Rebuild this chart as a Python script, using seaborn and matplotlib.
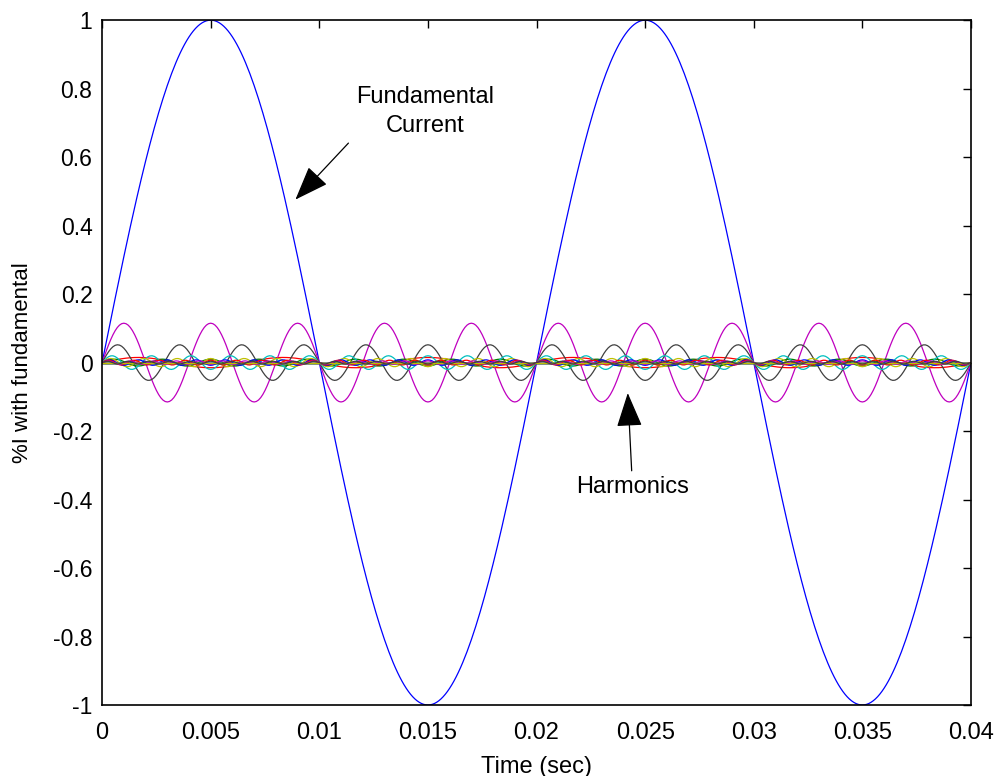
import numpy as np
import pandas as pd
import seaborn as sns
import matplotlib.pyplot as plt

# Harmonic content (orders 1..21, peak value in per unit)
orders = list(range(1, 22))
amplitudes = [1.0, 0.0, 0.015, 0.0, 0.115, 0.0, 0.052, 0.0, 0.010, 0.0,
              0.020, 0.0, 0.012, 0.0, 0.008, 0.0, 0.007, 0.0, 0.005, 0.0, 0.004]
f0 = 50.0
t_end = 0.04
dt = 1e-4

# MATLAB default colour order, cycled over the columns
matlab_colors = ['#0000ff', '#008000', '#ff0000', '#00bfbf', '#bf00bf', '#bfbf00', '#404040']

t = np.arange(0, t_end + dt / 2, dt)
frames = []
for n, a in zip(orders, amplitudes):
    frames.append(pd.DataFrame({'t': t, 'i': a * np.sin(2 * np.pi * f0 * n * t), 'h': n}))
df = pd.concat(frames, ignore_index=True)
palette = {n: matlab_colors[(n - 1) % 7] for n in orders}

sns.set_style('white')
plt.rcParams['font.family'] = ['Liberation Sans', 'DejaVu Sans']
plt.rcParams['text.color'] = 'black'
plt.rcParams['axes.labelcolor'] = 'black'

fig = plt.figure(figsize=(10.01, 7.76), dpi=100)
ax = fig.add_axes([0.102, 0.0915, 0.868, 0.8825])

sns.lineplot(data=df, x='t', y='i', hue='h', hue_order=orders, palette=palette,
             estimator=None, sort=False, legend=False, linewidth=0.9, ax=ax)

ax.set_xlim(0, 0.04)
ax.set_ylim(-1, 1)
ax.set_xticks(np.arange(0, 0.0401, 0.005))
ax.set_xticklabels(['0', '0.005', '0.01', '0.015', '0.02', '0.025', '0.03', '0.035', '0.04'])
ax.set_yticks(np.arange(-1, 1.01, 0.2))
ax.set_yticklabels(['-1', '-0.8', '-0.6', '-0.4', '-0.2', '0', '0.2', '0.4', '0.6', '0.8', '1'])
ax.tick_params(direction='in', length=6, width=1, top=True, right=True, colors='black')
ax.tick_params(axis='x', labelsize=17, pad=12)
ax.tick_params(axis='y', labelsize=16.5, pad=7)
for s in ax.spines.values():
    s.set_visible(True)
    s.set_color('black')
    s.set_linewidth(1.2)

ax.set_xlabel('Time (sec)', fontsize=17)
ax.set_ylabel('%I with fundamental', fontsize=16)
ax.xaxis.set_label_coords(0.5, -0.074)
ax.yaxis.set_label_coords(-0.08, 0.5)

arrow = dict(arrowstyle='-|>,head_length=0.8,head_width=0.3', mutation_scale=27,
             color='black', lw=0.9, shrinkA=0, shrinkB=0)
ax.annotate('', xy=(0.00890, 0.476), xytext=(0.01134, 0.641), arrowprops=arrow)
ax.text(0.01488, 0.733, 'Fundamental\nCurrent', ha='center', va='center', fontsize=17,
        linespacing=1.45)
ax.annotate('', xy=(0.02420, -0.089), xytext=(0.02438, -0.316), arrowprops=arrow)
ax.text(0.02442, -0.362, 'Harmonics', ha='center', va='center', fontsize=17)

fig.savefig('out.png', dpi=100)
